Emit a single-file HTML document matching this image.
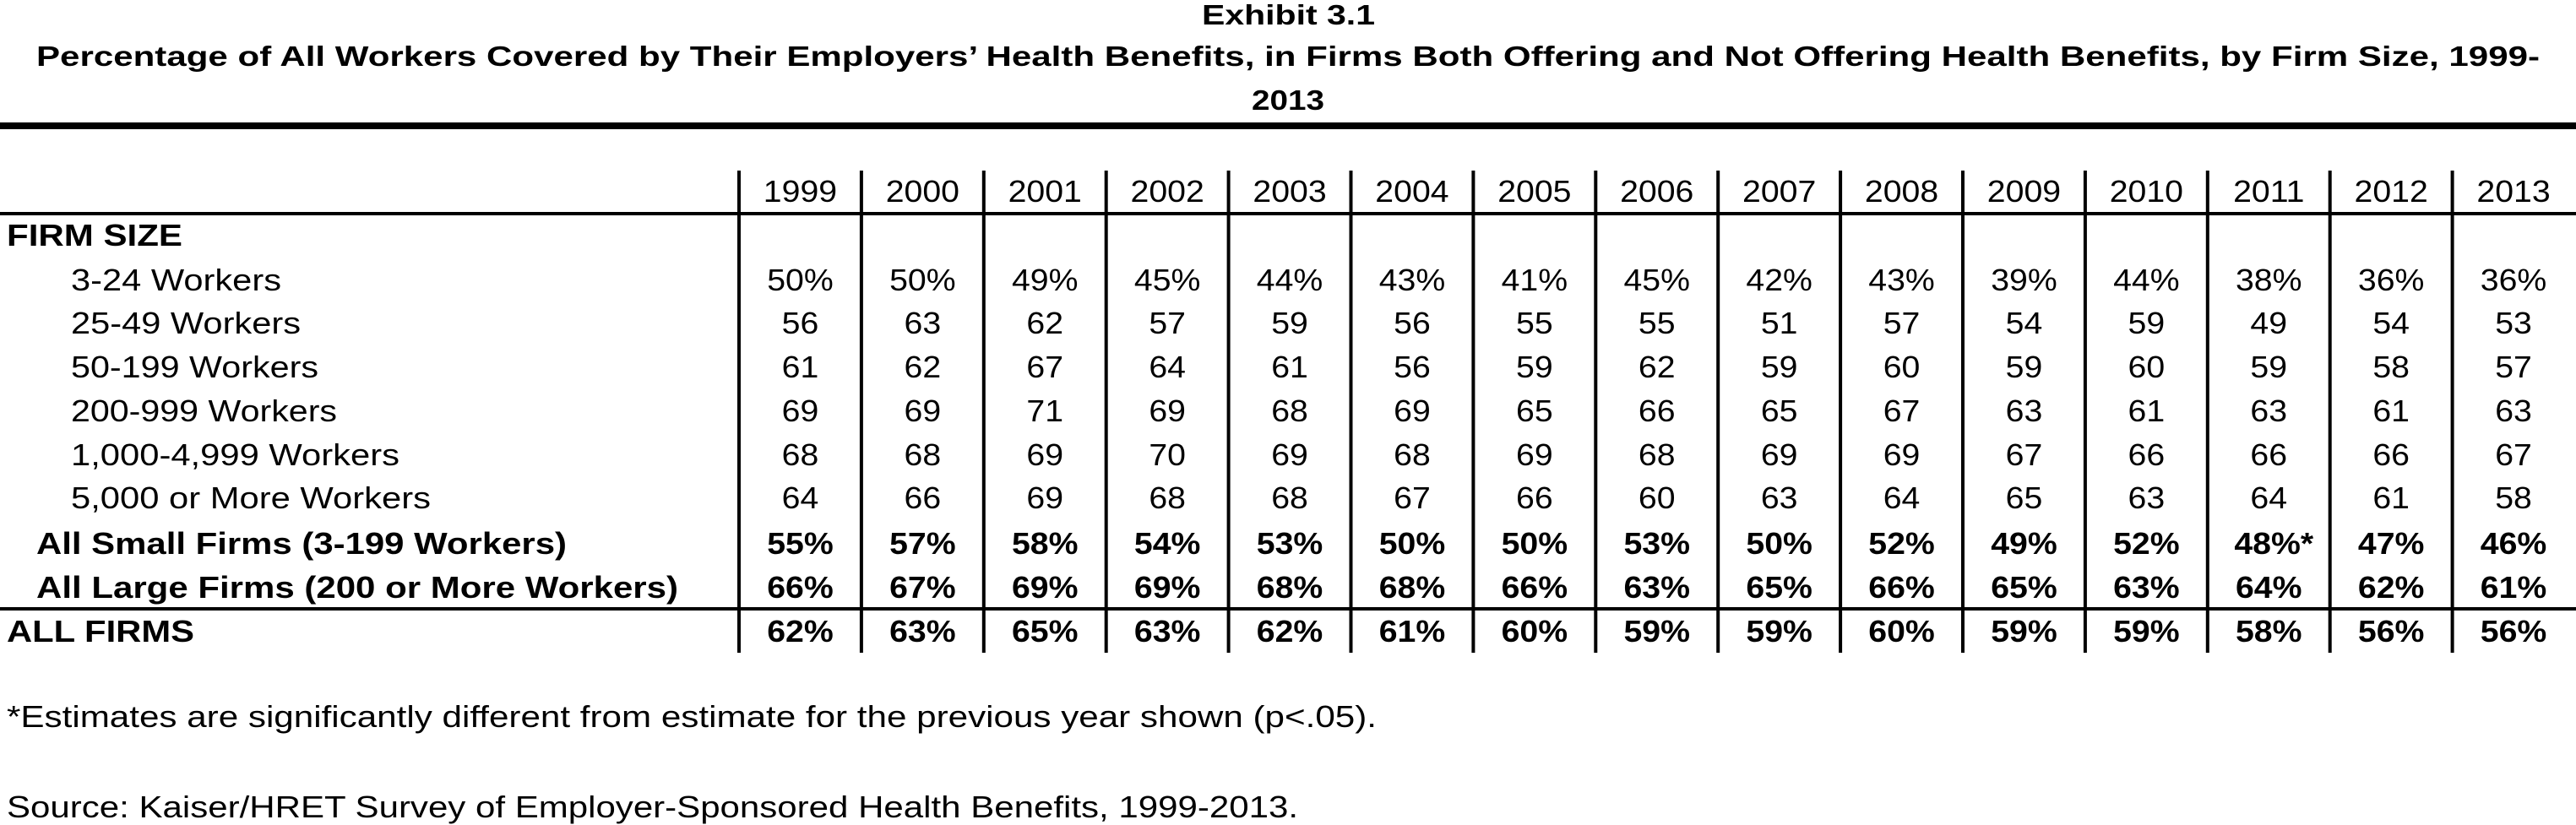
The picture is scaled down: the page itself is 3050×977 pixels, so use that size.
<!DOCTYPE html>
<html><head><meta charset="utf-8"><style>
html,body{margin:0;padding:0;background:#fff;width:3050px;height:977px;overflow:hidden}
svg{display:block;font-family:"Liberation Sans",Arial,sans-serif}
</style></head><body>
<svg id="chart" width="3050" height="977" viewBox="0 0 3050 977" xmlns="http://www.w3.org/2000/svg">
<text x="1423" y="29" font-size="33" font-weight="bold" textLength="205" lengthAdjust="spacingAndGlyphs">Exhibit 3.1</text>
<text x="43" y="78" font-size="33" font-weight="bold" textLength="2964" lengthAdjust="spacingAndGlyphs">Percentage of All Workers Covered by Their Employers’ Health Benefits, in Firms Both Offering and Not Offering Health Benefits, by Firm Size, 1999-</text>
<text x="1482" y="130" font-size="33" font-weight="bold" textLength="86" lengthAdjust="spacingAndGlyphs">2013</text>
<rect x="0" y="145" width="3050" height="8" fill="#000"/>
<rect x="0" y="251" width="3050" height="4" fill="#000"/>
<rect x="0" y="719" width="3050" height="4" fill="#000"/>
<g id="grid"></g>
<g id="labels"></g>
<g id="cells"></g>
<text x="8" y="861" font-size="36" textLength="1622" lengthAdjust="spacingAndGlyphs">*Estimates are significantly different from estimate for the previous year shown (p&lt;.05).</text>
<text x="8" y="968" font-size="36" textLength="1529" lengthAdjust="spacingAndGlyphs">Source: Kaiser/HRET Survey of Employer-Sponsored Health Benefits, 1999-2013.</text>
</svg>
<script>
const years = ["1999","2000","2001","2002","2003","2004","2005","2006","2007","2008","2009","2010","2011","2012","2013"];
const rowLabels = ["FIRM SIZE","3-24 Workers","25-49 Workers","50-199 Workers","200-999 Workers","1,000-4,999 Workers","5,000 or More Workers","All Small Firms (3-199 Workers)","All Large Firms (200 or More Workers)","ALL FIRMS"];
const workers3to24 = ["50%","50%","49%","45%","44%","43%","41%","45%","42%","43%","39%","44%","38%","36%","36%"];
const workers25to49 = ["56","63","62","57","59","56","55","55","51","57","54","59","49","54","53"];
const workers50to199 = ["61","62","67","64","61","56","59","62","59","60","59","60","59","58","57"];
const workers200to999 = ["69","69","71","69","68","69","65","66","65","67","63","61","63","61","63"];
const workers1000to4999 = ["68","68","69","70","69","68","69","68","69","69","67","66","66","66","67"];
const workers5000plus = ["64","66","69","68","68","67","66","60","63","64","65","63","64","61","58"];
const allSmall = ["55%","57%","58%","54%","53%","50%","50%","53%","50%","52%","49%","52%","48%*","47%","46%"];
const allLarge = ["66%","67%","69%","69%","68%","68%","66%","63%","65%","66%","65%","63%","64%","62%","61%"];
const allFirms = ["62%","63%","65%","63%","62%","61%","60%","59%","59%","60%","59%","59%","58%","56%","56%"];

const NS="http://www.w3.org/2000/svg";
const colX0=875, colW=144.9;
const rowY=[278,331,382,434,486,538,589,643,695,747];
const labelX=[8,84,84,84,84,84,84,43,43,8];
const labelR=[216,333,356,377,399,473,510,671,803,230];
const series=[null,workers3to24,workers25to49,workers50to199,workers200to999,workers1000to4999,workers5000plus,allSmall,allLarge,allFirms];
const bold=[true,false,false,false,false,false,false,true,true,true];
function colCenter(i){return colX0+colW*i+colW/2;}
const grid=document.getElementById('grid');
for(let i=0;i<years.length;i++){
  const l=document.createElementNS(NS,'rect');
  l.setAttribute('x',colX0+colW*i-2);l.setAttribute('y',202);l.setAttribute('width',4);l.setAttribute('height',571);l.setAttribute('fill','#000');
  
  
  grid.appendChild(l);
}
function txt(parent,s,cx,by,b){
  const g=document.createElementNS(NS,'g');
  g.setAttribute('transform','translate('+cx+','+by+') scale(1.09,1)');
  const t=document.createElementNS(NS,'text');
  t.setAttribute('x',0);t.setAttribute('y',0);t.setAttribute('font-size','36');t.setAttribute('text-anchor','middle');
  if(b)t.setAttribute('font-weight','bold');
  t.textContent=s;g.appendChild(t);parent.appendChild(g);return t;
}
const cells=document.getElementById('cells');
years.forEach((y,i)=>{
  const t=txt(cells,y,colCenter(i),239,false);
  
  
});
const labels=document.getElementById('labels');
rowLabels.forEach((s,r)=>{
  const t=document.createElementNS(NS,'text');
  t.setAttribute('x',labelX[r]);t.setAttribute('y',rowY[r]+13);t.setAttribute('font-size','36');
  if(bold[r])t.setAttribute('font-weight','bold');
  t.setAttribute('textLength',labelR[r]-labelX[r]);t.setAttribute('lengthAdjust','spacingAndGlyphs');
  t.textContent=s;
  
  
  labels.appendChild(t);
  const vals=series[r];
  if(vals){vals.forEach((v,i)=>{
    const c=txt(cells,v,colCenter(i)+(v.endsWith('*')?6:0),rowY[r]+13,bold[r]);
    
    
  });}
});
</script>
</body></html>
